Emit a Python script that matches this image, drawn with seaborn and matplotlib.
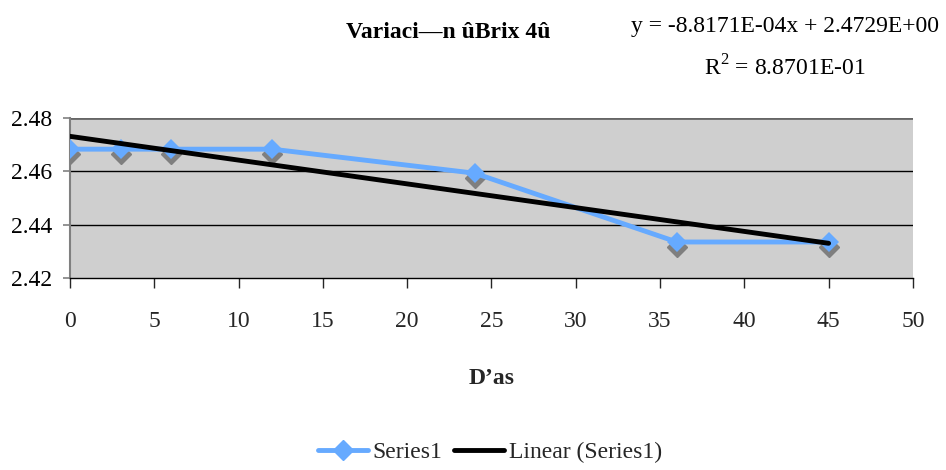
import numpy as np
import pandas as pd
import matplotlib
matplotlib.use("Agg")
import matplotlib.pyplot as plt
import matplotlib.transforms as mtransforms
from matplotlib.lines import Line2D
import seaborn as sns

# Data
dias = [0, 3, 6, 12, 24, 36, 45]
brix = [2.4683, 2.4683, 2.4683, 2.4683, 2.4593, 2.4335, 2.4335]
x_ticks = [0, 5, 10, 15, 20, 25, 30, 35, 40, 45, 50]
y_ticks = [2.42, 2.44, 2.46, 2.48]

sns.set_style("white")
plt.rcParams['font.family'] = ['Liberation Serif', 'DejaVu Serif']
plt.rcParams['mathtext.fontset'] = 'custom'
plt.rcParams['mathtext.rm'] = 'Liberation Serif'

df = pd.DataFrame({"dias": dias, "brix": brix})
blue = "#66aaff"
fs = 17

fig = plt.figure(figsize=(9.46, 4.70), dpi=100)
ax = fig.add_axes([0.074, 0.4085, 0.891, 0.3405])
ax.set_facecolor("#cfcfcf")

# shadow of the markers
shadow = mtransforms.offset_copy(ax.transData, fig=fig, x=0, y=-5, units='dots')
ax.plot(dias, brix, linestyle='none', marker='D', markersize=10,
        color='#7f7f7f', transform=shadow, zorder=3)

sns.lineplot(data=df, x="dias", y="brix", ax=ax, color=blue, linewidth=3.5,
             marker='D', markersize=10, markeredgewidth=0, zorder=4)

# linear trendline
slope, intercept = np.polyfit(dias, brix, 1)
xs = np.array([min(dias), max(dias)])
ax.plot(xs, slope * xs + intercept, color='black', linewidth=3.5, zorder=5)

ax.set_xlim(0, 50)
ax.set_ylim(2.42, 2.48)
ax.set_xticks(x_ticks)
ax.set_yticks(y_ticks)
ax.set_yticklabels([f"{v:.2f}" for v in y_ticks])
for y in [2.44, 2.46]:
    ax.axhline(y, color='black', linewidth=1, zorder=1)
ax.axhline(2.48, color='#666666', linewidth=2, zorder=1)

for s in ['top', 'right']:
    ax.spines[s].set_visible(False)
ax.spines['left'].set_color('#808080')
ax.spines['left'].set_linewidth(1.5)
ax.spines['bottom'].set_color('black')
ax.spines['bottom'].set_linewidth(1)
ax.tick_params(axis='x', direction='out', length=7, width=1, labelsize=fs,
               bottom=True, pad=17)
ax.tick_params(axis='y', direction='out', length=5, width=1.2, labelsize=fs,
               left=True, pad=8, colors='#808080', labelcolor='black')

ax.set_xlabel("D’as", fontsize=fs, fontweight='bold')
ax.xaxis.set_label_coords(0.5, -0.56)
ax.set_ylabel("")

fig.text(0.4736, 0.93, "Variaci—n ûBrix 4û", ha='center', va='center',
         fontsize=fs, fontweight='bold', color='black')
fig.text(0.83, 0.944, "y = -8.8171E-04x + 2.4729E+00", ha='center', va='center',
         fontsize=fs, color='black')
fig.text(0.83, 0.855, "R$^{2}$ = 8.8701E-01", ha='center', va='center',
         fontsize=fs, color='black')

handles = [Line2D([0], [0], color=blue, linewidth=3.5, marker='D', markersize=10),
           Line2D([0], [0], color='black', linewidth=3.5)]
fig.legend(handles, ["Series1", "Linear (Series1)"], loc='center',
           bbox_to_anchor=(0.518, 0.038), ncol=2, frameon=False,
           fontsize=fs, handlelength=2.1, handletextpad=0.2, columnspacing=0.5)

fig.savefig("out.png", dpi=100)
